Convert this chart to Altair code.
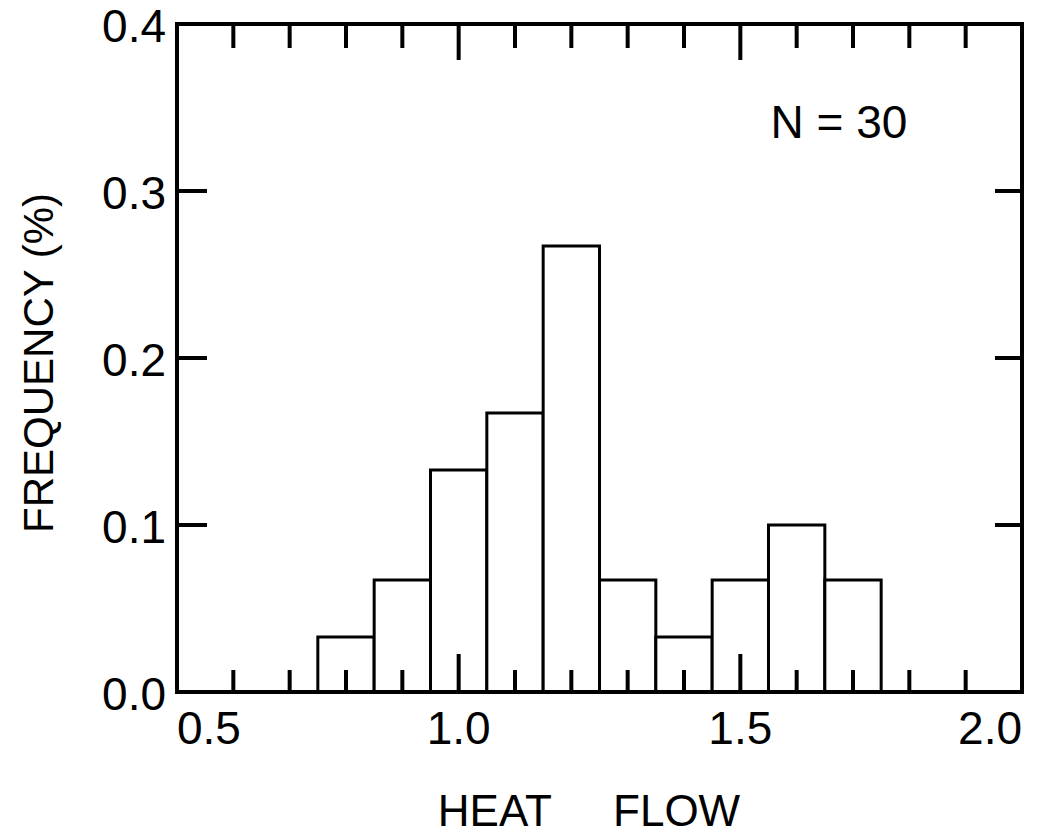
import altair as alt
import pandas as pd

# ---- data ----
bin_start = [0.75, 0.85, 0.95, 1.05, 1.15, 1.25, 1.35, 1.45, 1.55, 1.65]
bin_end = [0.85, 0.95, 1.05, 1.15, 1.25, 1.35, 1.45, 1.55, 1.65, 1.75]
frequency = [0.033, 0.067, 0.133, 0.167, 0.267, 0.067, 0.033, 0.067, 0.100, 0.067]

x_minor_ticks = [0.6, 0.7, 0.8, 0.9, 1.1, 1.2, 1.3, 1.4, 1.6, 1.7, 1.8, 1.9]
x_major_ticks = [1.0, 1.5]
x_label_values = [0.5, 1.0, 1.5, 2.0]
x_label_texts = ["0.5", "1.0", "1.5", "2.0"]
y_tick_values = [0.1, 0.2, 0.3]
y_label_values = [0.0, 0.1, 0.2, 0.3, 0.4]
y_label_texts = ["0.0", "0.1", "0.2", "0.3", "0.4"]

note_text = ["N = 30"]
note_x = [1.675]
note_y = [0.34]

x_title = ["HEAT\u00a0\u00a0\u00a0\u00a0\u00a0FLOW"]
y_title = ["FREQUENCY (%)"]

FONT = "Liberation Sans"
W, H = 845, 668
X_MIN, X_MAX = 0.5, 2.0
Y_MIN, Y_MAX = 0.0, 0.4

bars_df = pd.DataFrame({"start": bin_start, "end": bin_end, "freq": frequency,
                        "zero": [0.0] * len(frequency)})
minor_df = pd.DataFrame({"v": x_minor_ticks})
major_df = pd.DataFrame({"v": x_major_ticks})
ytick_df = pd.DataFrame({"v": y_tick_values})
xlab_df = pd.DataFrame({"v": x_label_values, "t": x_label_texts})
ylab_df = pd.DataFrame({"v": y_label_values, "t": y_label_texts})
note_df = pd.DataFrame({"x": note_x, "y": note_y, "t": note_text})
xtitle_df = pd.DataFrame({"t": x_title})
ytitle_df = pd.DataFrame({"t": y_title})
one_df = pd.DataFrame({"k": [0]})

xscale = alt.Scale(domain=[X_MIN, X_MAX], nice=False, zero=False)
yscale = alt.Scale(domain=[Y_MIN, Y_MAX], nice=False)

def X(field):
    return alt.X(field, scale=xscale, axis=None)

def Y(field):
    return alt.Y(field, scale=yscale, axis=None)

bars = alt.Chart(bars_df).mark_rect(fill="white", stroke="black", strokeWidth=3).encode(
    x=X("start:Q"), x2="end:Q", y=Y("freq:Q"), y2="zero:Q")

def vticks(df, y0, y1):
    return alt.Chart(df).mark_rule(color="black", strokeWidth=4).encode(
        x=X("v:Q"), y=alt.value(y0), y2=alt.value(y1))

def hticks(x0, x1):
    return alt.Chart(ytick_df).mark_rule(color="black", strokeWidth=4).encode(
        y=Y("v:Q"), x=alt.value(x0), x2=alt.value(x1))

top_minor = vticks(minor_df, 0, 24)
top_major = vticks(major_df, 0, 36)
bot_minor = vticks(minor_df, H - 22, H)
bot_major = vticks(major_df, H - 38, H)
left_ticks = hticks(0, 30)
right_ticks = hticks(W - 27, W)

def frame_line(x0, x1, y0, y1):
    return alt.Chart(one_df).mark_rule(color="black", strokeWidth=4, strokeCap="square").encode(
        x=alt.value(x0), x2=alt.value(x1), y=alt.value(y0), y2=alt.value(y1))

frame = [frame_line(0, W, 0, 0), frame_line(0, W, H, H),
         frame_line(0, 0, 0, H), frame_line(W, W, 0, H)]

def xlabels(sub, align):
    return alt.Chart(sub).mark_text(font=FONT, fontSize=46, color="black",
                                    align=align, baseline="top").encode(
        x=X("v:Q"), y=alt.value(H + 16), text="t:N")

xl_left = xlabels(xlab_df.iloc[:1], "left")
xl_mid = xlabels(xlab_df.iloc[1:-1], "center")
xl_right = xlabels(xlab_df.iloc[-1:], "right")

ylabels = alt.Chart(ylab_df).mark_text(font=FONT, fontSize=46, color="black",
                                       align="right", baseline="middle", dy=4).encode(
    y=Y("v:Q"), x=alt.value(-11), text="t:N")

xtitle = alt.Chart(xtitle_df).mark_text(font=FONT, fontSize=44, color="black",
                                        align="center", baseline="alphabetic").encode(
    x=alt.value(412), y=alt.value(H + 134), text="t:N")

ytitle = alt.Chart(ytitle_df).mark_text(font=FONT, fontSize=42, color="black", angle=270,
                                        align="center", baseline="alphabetic").encode(
    x=alt.value(-124), y=alt.value(339), text="t:N")

note = alt.Chart(note_df).mark_text(font=FONT, fontSize=46, color="black",
                                    align="center", baseline="middle").encode(
    x=X("x:Q"), y=Y("y:Q"), text="t:N")

chart = alt.layer(bars, *frame, top_minor, top_major, bot_minor, bot_major,
                  left_ticks, right_ticks, xl_left, xl_mid, xl_right, ylabels,
                  xtitle, ytitle, note).properties(
    width=W, height=H,
    autosize=alt.AutoSizeParams(type="none"),
    padding={"left": 177, "top": 24, "right": 19, "bottom": 143},
    background="white",
).configure(font=FONT, view=alt.ViewConfig(stroke="transparent"))

chart.save("out.html", embed_options={"renderer": "svg", "actions": False})
